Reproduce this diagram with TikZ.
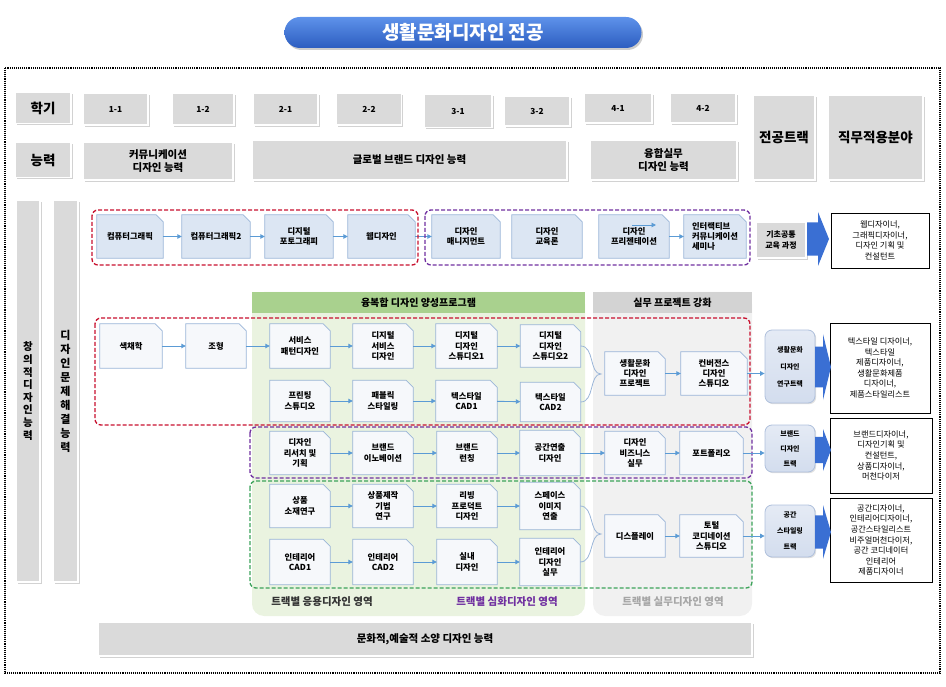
\documentclass[tikz,border=0pt]{standalone}
\usepackage{fontspec}
\setmainfont{Noto Sans CJK KR}
\usetikzlibrary{shadows,arrows.meta}
\definecolor{titletop}{HTML}{5E92EA}
\definecolor{titlebot}{HTML}{2C5DC0}
\definecolor{hdrgray}{HTML}{DADADA}
\definecolor{docA}{HTML}{DCE6F3}
\definecolor{docB}{HTML}{F6F8FB}
\definecolor{docedge}{HTML}{9AB5D8}
\definecolor{arrowblue}{HTML}{5B9BD5}
\definecolor{greenzone}{HTML}{EAF3E0}
\definecolor{greenhead}{HTML}{A9D18E}
\definecolor{grayzone}{HTML}{F1F1F1}
\definecolor{grayhead}{HTML}{D3D3D3}
\definecolor{redline}{HTML}{C8102E}
\definecolor{purpleline}{HTML}{7030A0}
\definecolor{greenline}{HTML}{3CA35A}
\definecolor{trkfill}{HTML}{D3DDEE}
\definecolor{trkedge}{HTML}{AFC0DC}
\definecolor{arrowdeep}{HTML}{3A6FD3}
\definecolor{zonegray}{HTML}{A6A6A6}
\pgfdeclarelayer{zones}
\pgfdeclarelayer{paper}
\pgfsetlayers{zones,paper,main}
\begin{document}
\begin{tikzpicture}[x=1pt,y=-1pt,
  every node/.style={font=\fontsize{8.3}{10.3}\selectfont\bfseries},
  hdr/.style={draw=white,line width=1.2pt,fill=hdrgray,inner sep=1pt,align=center,
    drop shadow={shadow xshift=1.8pt,shadow yshift=-1.8pt,fill=black!35,opacity=.5}},
  doc/.style={minimum width=60pt,minimum height=43pt,inner sep=1pt,align=center},
  docline/.style={draw=docedge,line width=0.7pt},
  flow/.style={-{Triangle[length=4.5pt,width=4.5pt]},line width=0.9pt,arrowblue},
  brace/.style={draw=docedge,line width=0.8pt},
  trk/.style={draw=trkedge,line width=0.8pt,top color=trkfill!60,bottom color=trkfill,rounded corners=7pt,
    minimum width=50pt,align=center,inner sep=1pt,
    drop shadow={shadow xshift=1.2pt,shadow yshift=-1.2pt,fill=black!30,opacity=.4}},
  job/.style={draw=black,line width=0.8pt,fill=white,align=center,inner sep=1pt,
    font=\fontsize{8.2}{10.6}\selectfont},
  zoneline/.style={line width=1.3pt,dash pattern=on 4pt off 2pt,rounded corners=6pt},
  bigarrow/.style={fill=arrowdeep}]
\useasboundingbox (0,0) rectangle (946,687);
% title
\node[draw=none,top color=titletop,bottom color=titlebot,rounded corners=15.5pt,
  minimum width=357pt,minimum height=31pt,text=white,font=\fontsize{19}{21}\selectfont\bfseries,
  drop shadow={shadow xshift=1.5pt,shadow yshift=-2pt,fill=black!40,opacity=.5}] (title) at (463,32.5) {생활문화디자인 전공};
\draw[densely dotted,line width=1.1pt] (5,68) rectangle (940,673);
% header rows
\node[hdr,minimum width=56pt,minimum height=31pt,font=\fontsize{13.5}{15}\selectfont\bfseries] (term) at (43,108) {학기};
\node[hdr,minimum width=65pt,minimum height=32pt] (t11) at (115.5,109) {1-1};
\node[hdr,minimum width=62pt,minimum height=32pt] (t12) at (203,109) {1-2};
\node[hdr,minimum width=65pt,minimum height=32pt] (t21) at (285.5,109) {2-1};
\node[hdr,minimum width=65pt,minimum height=32pt] (t22) at (369,109) {2-2};
\node[hdr,minimum width=68pt,minimum height=33pt] (t31) at (458,111) {3-1};
\node[hdr,minimum width=66pt,minimum height=30pt] (t32) at (537,111) {3-2};
\node[hdr,minimum width=68pt,minimum height=30pt] (t41) at (618,108) {4-1};
\node[hdr,minimum width=66pt,minimum height=30pt] (t42) at (703,108) {4-2};
\node[hdr,minimum width=62pt,minimum height=85pt,font=\fontsize{13.5}{15}\selectfont\bfseries] (major) at (784,137.5) {전공트랙};
\node[hdr,minimum width=95pt,minimum height=85pt,font=\fontsize{13.5}{15}\selectfont\bfseries] (jobs) at (875.5,137.5) {직무적용분야};
\node[hdr,minimum width=56pt,minimum height=35pt,font=\fontsize{13.5}{15}\selectfont\bfseries] (ability) at (43,160) {능력};
\node[hdr,minimum width=150pt,minimum height=38pt,font=\fontsize{10.5}{12.5}\selectfont\bfseries] (commab) at (158,161) {커뮤니케이션\\디자인 능력};
\node[hdr,minimum width=315pt,minimum height=40pt,font=\fontsize{10.5}{12.5}\selectfont\bfseries] (globab) at (409.5,160) {글로벌 브랜드 디자인 능력};
\node[hdr,minimum width=147pt,minimum height=40pt,font=\fontsize{10.5}{12.5}\selectfont\bfseries] (fusab) at (663.5,160) {융합실무\\디자인 능력};
% side bars
\node[hdr,minimum width=24pt,minimum height=382pt,font=\fontsize{10.5}{12.6}\selectfont\bfseries] (creative) at (28,391) {창\\의\\적\\디\\자\\인\\능\\력};
\node[hdr,minimum width=25pt,minimum height=382pt,font=\fontsize{11}{14}\selectfont\bfseries] (solve) at (65.5,391) {디\\자\\인\\문\\제\\해\\결\\능\\력};
% zones
\begin{pgfonlayer}{zones}
\fill[greenzone,rounded corners=12pt] (252,292) rectangle (585,616);
\fill[grayzone,rounded corners=12pt] (593,292) rectangle (752,616);
\end{pgfonlayer}
\node[fill=greenhead,minimum width=333pt,minimum height=21pt,font=\fontsize{10}{12}\selectfont\bfseries] (greenhd) at (418.5,302.5) {융복합 디자인 양성프로그램};
\node[fill=grayhead,minimum width=159pt,minimum height=21pt,font=\fontsize{10}{12}\selectfont\bfseries] (grayhd) at (672.5,302.5) {실무 프로젝트 강화};
% row A
\node[doc,minimum width=66pt] (cg1) at (130,236.5) {컴퓨터그래픽};
\node[doc,minimum width=68pt] (cg2) at (216,236.5) {컴퓨터그래픽2};
\node[doc,minimum width=68pt] (photo) at (299,236.5) {디지털\\포토그래피};
\node[doc,minimum width=67pt] (web) at (381.5,236.5) {웹디자인};
\node[doc,minimum width=68pt] (mgmt) at (466,236.5) {디자인\\매니지먼트};
\node[doc,minimum width=70pt] (edu) at (547,236.5) {디자인\\교육론};
\node[doc,minimum width=70pt] (pres) at (634,236.5) {디자인\\프리젠테이션};
\node[doc,minimum width=62pt,align=left] (inter) at (715,236.5) {인터랙티브\\커뮤니케이션\\세미나};
\coordinate (presnote) at (632,225);
\draw[flow] (cg1) -- (cg2);
\draw[flow] (cg2) -- (photo);
\draw[flow] (photo) -- (web);
\draw[flow] (web) -- (mgmt);
\draw[flow] (pres) -- (inter);
\draw[flow] (presnote) -- ++(24,0);
\draw[zoneline,redline] (92,210) rectangle (418,265);
\draw[zoneline,purpleline] (425,210) rectangle (750,265);
\node[hdr,minimum width=50pt,minimum height=36pt,font=\fontsize{8}{10.5}\selectfont\bfseries] (basic) at (781,240) {기초공통\\교육 과정};
\node[job,minimum width=98pt,minimum height=55pt] (jobA) at (880,240.5) {웹디자이너,\\그래픽디자이너,\\디자인 기획 및\\컨설턴트};
% row B
\node[doc,minimum width=62pt,minimum height=44pt] (color) at (131,346) {색채학};
\node[doc,minimum height=44pt] (form) at (216,346) {조형};
\node[doc,minimum height=44pt] (svc) at (300,346) {서비스\\패턴디자인};
\node[doc,minimum height=44pt] (dsvc) at (383,346) {디지털\\서비스\\디자인};
\node[doc,minimum width=61pt,minimum height=44pt] (dds1) at (466.5,346) {디지털\\디자인\\스튜디오1};
\node[doc,minimum height=42pt] (dds2) at (550.5,346) {디지털\\디자인\\스튜디오2};
\node[doc,minimum height=41pt] (print) at (300,401) {프린팅\\스튜디오};
\node[doc,minimum height=41pt] (fabric) at (383,401) {패블릭\\스타일링};
\node[doc,minimum width=61pt,minimum height=41pt] (tcad1) at (466.5,401) {텍스타일\\CAD1};
\node[doc,minimum height=39pt] (tcad2) at (550.5,402) {텍스타일\\CAD2};
\node[doc] (lcp) at (635,373.5) {생활문화\\디자인\\프로젝트};
\node[doc,minimum width=66pt] (conv) at (714,373.5) {컨버전스\\디자인\\스튜디오};
\coordinate (tipB) at (601,374);
\draw[flow] (color) -- (form);
\draw[flow] (form) -- (svc);
\draw[flow] (svc) -- (dsvc);
\draw[flow] (dsvc) -- (dds1);
\draw[flow] (dds1) -- (dds2);
\draw[flow] (print) -- (fabric);
\draw[flow] (fabric) -- (tcad1);
\draw[flow] (tcad1) -- (tcad2);
\draw[brace] (dds2.east) .. controls +(14,0) and +(-12,0) .. (tipB) .. controls +(-12,0) and +(14,0) .. (tcad2.east);
\draw[flow] (lcp) -- (conv);
\draw[zoneline,redline] (95,318) rectangle (750,425);
\node[trk,minimum height=73pt,font=\fontsize{7}{17}\selectfont\bfseries] (track1) at (790,366.5) {생활문화\\디자인\\연구트랙};
\draw[flow] (conv.east) -- (conv.east -| track1.west);
\node[job,minimum width=100pt,minimum height=90pt] (job1) at (880,368) {텍스타일 디자이너,\\텍스타일\\제품디자이너,\\생활문화제품\\디자이너,\\제품스타일리스트};
% row C
\node[doc] (res) at (300,453) {디자인\\리서치 및\\기획};
\node[doc] (brinno) at (383,453) {브랜드\\이노베이션};
\node[doc] (brlaunch) at (467,453) {브랜드\\런칭};
\node[doc,minimum height=45pt] (space) at (550,453) {공간연출\\디자인};
\node[doc] (biz) at (635,453) {디자인\\비즈니스\\실무};
\node[doc,minimum width=63pt] (port) at (711.5,453) {포트폴리오};
\draw[flow] (res) -- (brinno);
\draw[flow] (brinno) -- (brlaunch);
\draw[flow] (brlaunch) -- (space);
\draw[flow] (space) -- (biz);
\draw[flow] (biz) -- (port);
\draw[zoneline,purpleline] (250,427) rectangle (752,478);
\node[trk,minimum height=47pt,font=\fontsize{7}{15}\selectfont\bfseries] (track2) at (790,448.5) {브랜드\\디자인\\트랙};
\draw[flow] (port.east) -- (port.east -| track2.west);
\node[job,minimum width=102pt,minimum height=75pt] (job2) at (881,455.5) {브랜드디자이너,\\디자인기획 및\\컨설턴트,\\상품디자이너,\\머천다이저};
% row D
\node[doc] (goods) at (300,506) {상품\\소재연구};
\node[doc] (goodsmk) at (383,506) {상품제작\\기법\\연구};
\node[doc] (living) at (467,506) {리빙\\프로덕트\\디자인};
\node[doc,minimum height=47pt] (spimg) at (550,506) {스페이스\\이미지\\연출};
\node[doc,minimum height=45pt] (icad1) at (300,562) {인테리어\\CAD1};
\node[doc,minimum height=45pt] (icad2) at (383,562) {인테리어\\CAD2};
\node[doc,minimum height=45pt] (interior) at (467,562) {실내\\디자인};
\node[doc,minimum height=47pt] (intpr) at (550,562) {인테리어\\디자인\\실무};
\node[doc,minimum height=42pt] (display) at (635,536) {디스플레이};
\node[doc,minimum width=63pt,minimum height=42pt] (total) at (711.5,536) {토털\\코디네이션\\스튜디오};
\coordinate (tipD) at (601,534);
\draw[flow] (goods) -- (goodsmk);
\draw[flow] (goodsmk) -- (living);
\draw[flow] (living) -- (spimg);
\draw[flow] (icad1) -- (icad2);
\draw[flow] (icad2) -- (interior);
\draw[flow] (interior) -- (intpr);
\draw[brace] (spimg.east) .. controls +(14,0) and +(-12,0) .. (tipD) .. controls +(-12,0) and +(14,0) .. (intpr.east);
\draw[flow] (display) -- (total);
\draw[zoneline,greenline] (250,481) rectangle (752,588);
\node[trk,minimum height=52pt,font=\fontsize{7}{16}\selectfont\bfseries] (track3) at (790,531) {공간\\스타일링\\트랙};
\draw[flow] (total.east) -- (total.east -| track3.west);
\node[job,minimum width=102pt,minimum height=84pt] (job3) at (881,540) {공간디자이너,\\인테리어디자이너,\\공간스타일리스트\\비주얼머천다이저,\\공간 코디네이터\\인테리어\\제품디자이너};
% big arrows into job boxes
\foreach \x/\y/\h/\w in {807/239/27/22, 815/367/33/16, 815/450/21/16, 815/532/27/16}
  \fill[bigarrow] (\x,{\y-0.62*\h}) -- ({\x+0.5*\w},{\y-0.62*\h}) -- ({\x+0.5*\w},{\y-\h})
    -- ({\x+\w},\y) -- ({\x+0.5*\w},{\y+\h}) -- ({\x+0.5*\w},{\y+0.62*\h}) -- (\x,{\y+0.62*\h}) -- cycle;
% zone labels
\node[font=\fontsize{10.5}{12}\selectfont\bfseries,text=black!80] (applab) at (322,602) {트랙별 응용디자인 영역};
\node[font=\fontsize{10.5}{12}\selectfont\bfseries,text=purpleline] (deeplab) at (507,602) {트랙별 심화디자인 영역};
\node[font=\fontsize{10.5}{12}\selectfont\bfseries,text=zonegray] (praclab) at (673,602) {트랙별 실무디자인 영역};
\node[hdr,minimum width=654pt,minimum height=34pt,font=\fontsize{10.5}{12}\selectfont\bfseries] (culture) at (425,639) {문화적,예술적 소양 디자인 능력};
% document outlines
\begin{pgfonlayer}{paper}
\foreach \n in {cg1,cg2,photo,web,mgmt,edu,pres,inter}
  \filldraw[docline,fill=docA] (\n.south west) -- (\n.north west) -- ([xshift=-7pt]\n.north east)
    -- ([yshift=-7pt]\n.north east) -- (\n.south east) -- cycle;
\foreach \n in {color,form,svc,dsvc,dds1,dds2,print,fabric,tcad1,tcad2,lcp,conv,res,brinno,brlaunch,space,biz,port,goods,goodsmk,living,spimg,icad1,icad2,interior,intpr,display,total}
  \filldraw[docline,fill=docB] (\n.south west) -- (\n.north west) -- ([xshift=-7pt]\n.north east)
    -- ([yshift=-7pt]\n.north east) -- (\n.south east) -- cycle;
\end{pgfonlayer}
\end{tikzpicture}
\end{document}
